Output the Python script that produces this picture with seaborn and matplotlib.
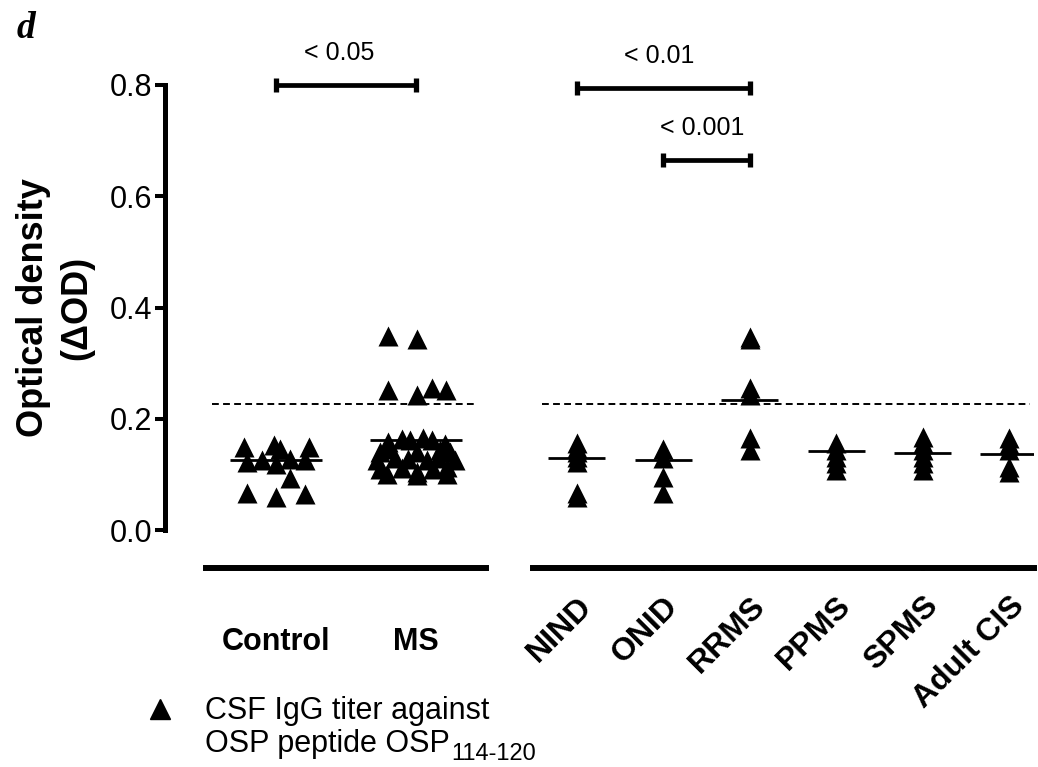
import matplotlib
matplotlib.use('Agg')
import matplotlib.pyplot as plt
import matplotlib.lines as mlines
import seaborn as sns
import pandas as pd
import numpy as np

# ---- data ----
left_groups = ['Control', 'MS']
control_od = [0.149, 0.152, 0.146, 0.149, 0.125, 0.128, 0.123, 0.119, 0.126,
              0.093, 0.066, 0.060, 0.064]
control_dx = [-0.229, -0.012, 0.029, 0.238, -0.102, 0.100, -0.209, 0.000, 0.207,
              0.100, -0.205, 0.000, 0.207]
ms_od = [0.348, 0.344, 0.252, 0.242, 0.255, 0.251,
         0.159, 0.163, 0.162, 0.165, 0.162, 0.155,
         0.140, 0.145, 0.140, 0.143, 0.140,
         0.125, 0.130, 0.128, 0.125, 0.130, 0.125,
         0.110, 0.112, 0.105, 0.110, 0.113,
         0.100, 0.098, 0.100]
ms_dx = [-0.198, 0.005, -0.198, 0.005, 0.112, 0.212,
         -0.198, -0.102, -0.043, 0.052, 0.112, 0.207,
         -0.257, -0.198, 0.005, 0.171, 0.243,
         -0.281, -0.150, -0.055, 0.076, 0.159, 0.279,
         -0.257, -0.102, 0.005, 0.124, 0.219,
         -0.209, 0.005, 0.219]
left_means = [0.126, 0.162]

right_groups = ['NIND', 'ONID', 'RRMS', 'PPMS', 'SPMS', 'Adult CIS']
nind_od = [0.156, 0.148, 0.141, 0.132, 0.123, 0.066, 0.060]
onid_od = [0.145, 0.129, 0.095, 0.066]
rrms_od = [0.347, 0.343, 0.255, 0.243, 0.165, 0.144]
ppms_od = [0.156, 0.144, 0.132, 0.120, 0.108]
spms_od = [0.168, 0.156, 0.144, 0.132, 0.120, 0.108]
cis_od = [0.165, 0.155, 0.144, 0.114, 0.105]
right_means = [0.129, 0.125, 0.234, 0.142, 0.138, 0.137]

cutoff = 0.226
yticks = [0.0, 0.2, 0.4, 0.6, 0.8]

# comparisons: group a, group b, bar height, label
left_sig = [('Control', 'MS', 0.800, '< 0.05')]
right_sig = [('NIND', 'RRMS', 0.795, '< 0.01'),
             ('ONID', 'RRMS', 0.665, '< 0.001')]

# ---- style ----
sns.set_style('ticks')
plt.rcParams['font.family'] = ['Liberation Sans', 'DejaVu Sans']
plt.rcParams.update({
    'text.color': 'black',
    'axes.labelcolor': 'black',
    'axes.edgecolor': 'black',
    'xtick.color': 'black',
    'ytick.color': 'black',
    'axes.linewidth': 3.6,
})

W, H = 1038, 767
fig = plt.figure(figsize=(W / 100, H / 100), dpi=100)
axL = fig.add_axes([206 / W, (H - 530) / H, 280 / W, 445 / H])
axR = fig.add_axes([533 / W, (H - 530) / H, 501 / W, 445 / H])

MSIZE = 14.4  # marker size in points
MEAN_HALF = 0.33

left_df = pd.DataFrame({
    'group': ['Control'] * len(control_od) + ['MS'] * len(ms_od),
    'od': control_od + ms_od,
    'dx': control_dx + ms_dx,
})
left_pos = {g: i for i, g in enumerate(left_groups)}
left_df['x'] = left_df['group'].map(left_pos) + left_df['dx']

right_vals = [nind_od, onid_od, rrms_od, ppms_od, spms_od, cis_od]
right_df = pd.DataFrame({
    'group': [g for g, v in zip(right_groups, right_vals) for _ in v],
    'od': [x for v in right_vals for x in v],
})
right_pos = {g: i for i, g in enumerate(right_groups)}

# ---- left panel ----
sns.scatterplot(data=left_df, x='x', y='od', marker='^', s=MSIZE ** 2,
                color='black', linewidth=0, ax=axL, legend=False, zorder=3)
lp = np.arange(len(left_groups))
axL.hlines(left_means, lp - MEAN_HALF, lp + MEAN_HALF, colors='black',
           linewidth=2, zorder=2)
axL.hlines(cutoff, -0.457, 1.42, colors='black', linestyles=(0, (3.5, 2.2)),
           linewidth=1.4, clip_on=False)

# ---- right panel ----
sns.stripplot(data=right_df, x='group', y='od', order=right_groups, jitter=False,
              marker='^', size=MSIZE, color='black', linewidth=0, ax=axR, zorder=3)
rp = np.arange(len(right_groups))
axR.hlines(right_means, rp - MEAN_HALF, rp + MEAN_HALF, colors='black',
           linewidth=2, zorder=2)
axR.hlines(cutoff, -0.41, 5.24, colors='black', linestyles=(0, (3.5, 2.2)),
           linewidth=1.4, clip_on=False)

# ---- significance bars ----
def sig_bars(ax, sigs, pos):
    for a, b, h, lab in sigs:
        xa, xb = pos[a], pos[b]
        eb = ax.errorbar((xa + xb) / 2, h, xerr=(xb - xa) / 2, fmt='none',
                         ecolor='black', elinewidth=3.4, capsize=4.8, capthick=3.8)
        for art in eb.lines[1]:
            art.set_clip_on(False)
        for art in eb.lines[2]:
            art.set_clip_on(False)
        ax.text((xa + xb) / 2 - 0.05, h + 0.057, lab, ha='center', va='center',
                fontsize=18)

sig_bars(axL, left_sig, left_pos)
sig_bars(axR, right_sig, right_pos)

# ---- axes formatting ----
for ax in (axL, axR):
    ax.set_ylim(0, 0.8)
    ax.set_xlabel('')
    ax.set_ylabel('')
    ax.spines['top'].set_visible(False)
    ax.spines['right'].set_visible(False)
    ax.spines['bottom'].set_position(('outward', 27.4))
    ax.spines['bottom'].set_linewidth(4.3)
    ax.tick_params(axis='x', length=2.5, width=2.9, color='black')

axL.set_xlim(-0.5, 1.5)
axL.set_xticks(lp, left_groups, fontsize=22, fontweight='bold')
axL.tick_params(axis='x', pad=40)
axL.spines['left'].set_position(('outward', 29.5))
axL.spines['left'].set_bounds(0, 0.8)
axL.spines['left'].set_linewidth(3.6)
axL.set_yticks(yticks, [f'{t:.1f}' for t in yticks])
axL.tick_params(axis='y', length=7.2, width=2.9, labelsize=22, pad=2, color='black')
axL.set_ylabel('Optical density\n(\u0394OD)', fontsize=26, fontweight='bold',
               linespacing=1.3, va='center')
axL.yaxis.set_label_coords(-0.539, 0.5)

axR.set_xlim(-0.509, 5.29)
axR.spines['left'].set_visible(False)
axR.set_yticks([])
axR.set_xticks(rp, right_groups, fontsize=23, fontweight='bold', rotation=45,
               ha='right', va='top', rotation_mode='anchor')
axR.tick_params(axis='x', pad=14)

# ---- legend key and panel letter ----
fig.add_artist(mlines.Line2D([160 / W], [1 - 709 / H], marker='^', markersize=MSIZE,
                             color='black', linestyle='none',
                             transform=fig.transFigure))
fig.text(205 / W, 1 - 719 / H, 'CSF IgG titer against', fontsize=22, va='baseline')
t2 = fig.text(205 / W, 1 - 752 / H, 'OSP peptide OSP', fontsize=22, va='baseline')
axL.annotate('114-120', xy=(1, 0), xycoords=t2, xytext=(1, -4),
             textcoords='offset points', ha='left', va='bottom', fontsize=17,
             annotation_clip=False)
fig.text(17 / W, 1 - 38 / H, 'd', fontsize=27, fontweight='bold', fontstyle='italic',
         family='Liberation Serif', va='baseline')

fig.savefig('out.png', dpi=100)
